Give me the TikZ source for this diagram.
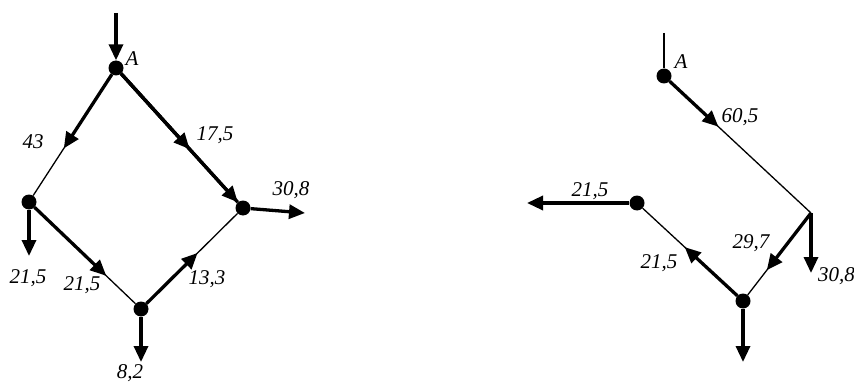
\documentclass[tikz,border=0pt]{standalone}
\usepackage{fontspec}
\setmainfont{Liberation Serif}
\usetikzlibrary{arrows.meta,calc}
\begin{document}
\begin{tikzpicture}[x=1pt,y=-1pt,
  dot/.style={circle,fill=black,inner sep=0pt,minimum size=15pt},
  lbl/.style={font=\itshape\fontsize{21}{25}\selectfont,inner sep=0pt},
  heavy/.style={line width=3.3pt,-{Triangle[length=16pt,width=14pt]}},
  heavyplain/.style={line width=3.3pt},
  light/.style={line width=1.3pt}]
\useasboundingbox (0,0) rectangle (854,385);
% ---------- left diagram ----------
\coordinate (Ltop) at (116,13);
\node[dot] (LA) at (116,68) {};
\node[dot] (LL) at (29,202) {};
\node[dot] (LR) at (243,208) {};
\node[dot] (LB) at (141,309) {};
\coordinate (LRout) at (305,213);
\coordinate (LLout) at (29,256);
\coordinate (LBout) at (141,362);

\draw[heavy] (Ltop) -- (LA);
\draw[light] (LA) -- (LL);
\draw[heavy] (LA) -- ($(LA)!0.6!(LL)$);
\draw[heavyplain] (LA) -- (LR);
\draw[heavy] (LA) -- ($(LA)!0.58!(LR)$);
\draw[heavy] (LA) -- (LR);
\draw[heavy] (LR) -- (LRout);
\draw[heavy] (LL) -- (LLout);
\draw[light] (LL) -- (LB);
\draw[heavy] (LL) -- ($(LL)!0.69!(LB)$);
\draw[light] (LB) -- (LR);
\draw[heavy] (LB) -- ($(LB)!0.555!(LR)$);
\draw[heavy] (LB) -- (LBout);

\node[lbl] (tA1) at (132,59) {A};
\node[lbl] (t43) at (33,142) {43};
\node[lbl] (t175) at (215,135) {17,5};
\node[lbl] (t308a) at (291,190) {30,8};
\node[lbl] (t215a) at (28,278) {21,5};
\node[lbl] (t215b) at (82,285) {21,5};
\node[lbl] (t133) at (207,279) {13,3};
\node[lbl] (t82) at (130,373) {8,2};

% ---------- right diagram ----------
\coordinate (Rtop) at (664,33);
\node[dot] (RA) at (664,76) {};
\coordinate (RC) at (811,213);
\node[dot] (RB) at (743,301) {};
\node[dot] (RD) at (637,203) {};
\coordinate (RCout) at (811,273);
\coordinate (RDout) at (527,203);
\coordinate (RBout) at (743,362);

\draw[light] (Rtop) -- (RA);
\draw[light] (RA) -- (RC);
\draw[heavy] (RA) -- ($(RA)!0.37!(RC)$);
\draw[heavy] (RC) -- (RCout);
\draw[light] (RC) -- (RB);
\draw[heavy] (RC) -- ($(RC)!0.65!(RB)$);
\draw[light] (RB) -- (RD);
\draw[heavy] (RB) -- ($(RB)!0.55!(RD)$);
\draw[heavy] (RD) -- (RDout);
\draw[heavy] (RB) -- (RBout);

\node[lbl] (tA2) at (681,62) {A};
\node[lbl] (t605) at (740,117) {60,5};
\node[lbl] (t215c) at (590,191) {21,5};
\node[lbl] (t297) at (751,243) {29,7};
\node[lbl] (t215d) at (659,263) {21,5};
\node[lbl,anchor=west] (t308b) at (818,276) {30,8};
\end{tikzpicture}
\end{document}
